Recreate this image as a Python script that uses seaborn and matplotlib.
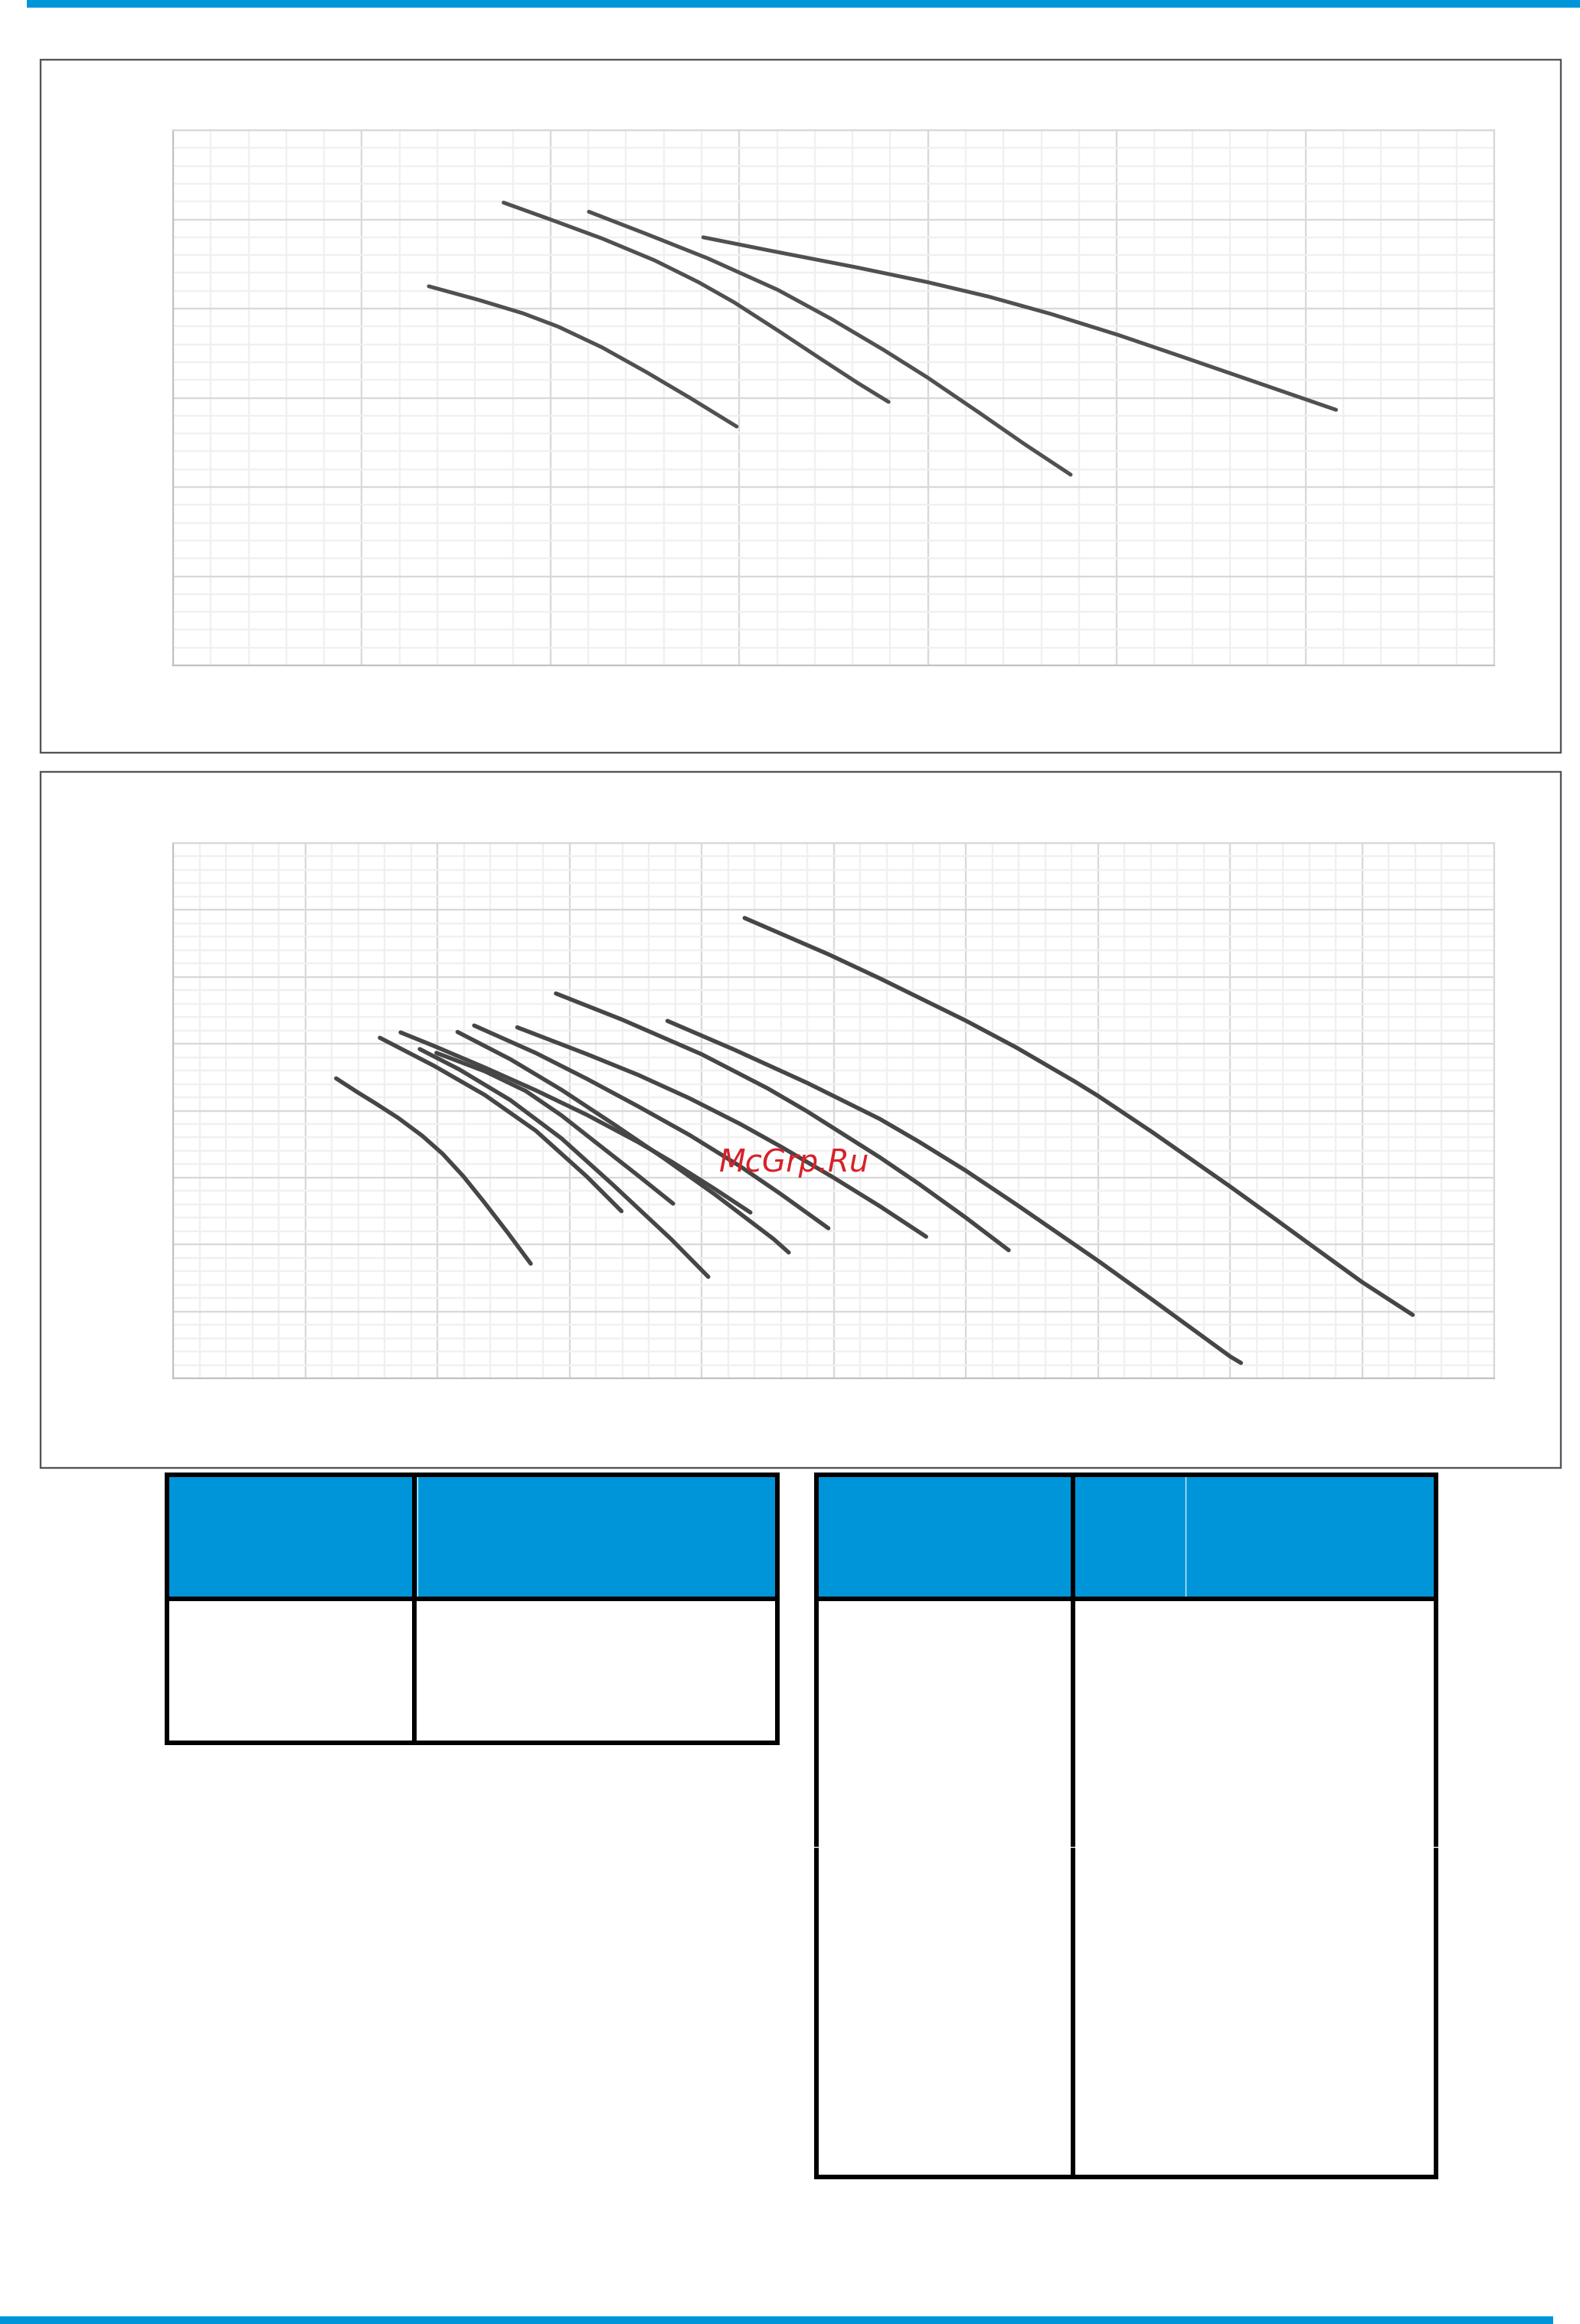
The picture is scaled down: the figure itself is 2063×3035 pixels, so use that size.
import numpy as np
import pandas as pd
import matplotlib
matplotlib.use("Agg")
import matplotlib.pyplot as plt
from matplotlib.patches import Rectangle
import seaborn as sns

# page size in pixels (dpi 100)
W, H = 2063, 3035
BLUE = "#0095d9"

# ---- top chart: 4 curves, x in major-grid units (0..7), y (0..6)
top_a_q = [1.355, 1.621, 1.854, 2.040, 2.273, 2.506, 2.739, 2.986]
top_a_h = [4.250, 4.096, 3.947, 3.798, 3.565, 3.290, 2.999, 2.678]
top_b_q = [1.751, 1.993, 2.273, 2.552, 2.785, 2.972, 3.204, 3.437, 3.624, 3.791]
top_b_h = [5.188, 5.004, 4.786, 4.540, 4.295, 4.071, 3.755, 3.429, 3.171, 2.954]
top_c_q = [2.203, 2.506, 2.832, 3.204, 3.484, 3.763, 3.996, 4.276, 4.509, 4.756]
top_c_h = [5.086, 4.838, 4.564, 4.210, 3.888, 3.539, 3.229, 2.826, 2.484, 2.138]
top_d_q = [2.809, 3.158, 3.624, 3.996, 4.322, 4.648, 5.007, 5.347, 5.720, 6.162]
top_d_h = [4.799, 4.652, 4.461, 4.297, 4.134, 3.942, 3.705, 3.460, 3.188, 2.865]

# ---- bottom chart: 11 curves, x (0..10), y (0..8)
bot_1_q = [1.234, 1.395, 1.524, 1.706, 1.887, 2.042, 2.198, 2.353, 2.534, 2.707]
bot_1_h = [4.483, 4.277, 4.120, 3.889, 3.623, 3.352, 3.017, 2.637, 2.174, 1.714]
bot_2_q = [1.565, 1.973, 2.360, 2.746, 3.133, 3.394]
bot_2_h = [5.090, 4.673, 4.234, 3.700, 3.013, 2.498]
bot_3_q = [1.722, 1.973, 2.360, 2.746, 3.133, 3.520, 3.771, 4.100, 4.370]
bot_3_h = [5.170, 4.969, 4.644, 4.304, 3.937, 3.530, 3.241, 2.830, 2.479]
bot_4_q = [1.867, 2.167, 2.553, 2.940, 3.326, 3.771, 4.051]
bot_4_h = [4.921, 4.616, 4.158, 3.586, 2.899, 2.078, 1.517]
bot_5_q = [1.993, 2.360, 2.669, 2.940, 3.230, 3.520, 3.785]
bot_5_h = [4.864, 4.589, 4.295, 3.929, 3.479, 3.030, 2.611]
bot_6_q = [2.153, 2.553, 2.940, 3.326, 3.713, 4.100, 4.544, 4.660]
bot_6_h = [5.177, 4.769, 4.312, 3.810, 3.292, 2.750, 2.084, 1.881]
bot_7_q = [2.279, 2.746, 3.133, 3.520, 3.906, 4.293, 4.602, 4.960]
bot_7_h = [5.273, 4.862, 4.475, 4.065, 3.640, 3.168, 2.751, 2.243]
bot_8_q = [2.605, 3.133, 3.520, 3.906, 4.293, 4.602, 5.000, 5.350, 5.700]
bot_8_h = [5.246, 4.845, 4.535, 4.188, 3.801, 3.461, 2.999, 2.572, 2.117]
bot_9_q = [3.742, 4.250, 4.800, 5.350, 5.645, 6.000, 6.384, 7.000, 7.418, 8.000, 8.083]
bot_9_h = [5.342, 4.910, 4.415, 3.876, 3.537, 3.104, 2.597, 1.759, 1.166, 0.328, 0.230]
bot_10_q = [2.898, 3.400, 4.000, 4.500, 4.800, 5.350, 5.645, 6.000, 6.325]
bot_10_h = [5.752, 5.360, 4.844, 4.334, 3.989, 3.302, 2.906, 2.402, 1.915]
bot_11_q = [4.326, 4.960, 5.350, 6.000, 6.384, 6.827, 7.000, 7.418, 8.000, 8.304, 8.600, 9.000, 9.383]
bot_11_h = [6.880, 6.338, 5.977, 5.346, 4.943, 4.434, 4.223, 3.671, 2.868, 2.436, 2.010, 1.438, 0.948]


def to_frame(curves):
    rows = []
    for name, (q, h) in curves.items():
        for a, b in zip(q, h):
            rows.append((name, a, b))
    return pd.DataFrame(rows, columns=["curve", "q", "h"])


top_df = to_frame({"a": (top_a_q, top_a_h), "b": (top_b_q, top_b_h),
                   "c": (top_c_q, top_c_h), "d": (top_d_q, top_d_h)})
bot_df = to_frame({"1": (bot_1_q, bot_1_h), "2": (bot_2_q, bot_2_h), "3": (bot_3_q, bot_3_h),
                   "4": (bot_4_q, bot_4_h), "5": (bot_5_q, bot_5_h), "6": (bot_6_q, bot_6_h),
                   "7": (bot_7_q, bot_7_h), "8": (bot_8_q, bot_8_h), "9": (bot_9_q, bot_9_h),
                   "10": (bot_10_q, bot_10_h), "11": (bot_11_q, bot_11_h)})

sns.set_style("white")
plt.rcParams['font.family'] = ['DejaVu Sans']

fig = plt.figure(figsize=(W / 100, H / 100), dpi=100)
fig.patch.set_facecolor("white")

# page layer (pixel coords, y downwards)
page = fig.add_axes([0, 0, 1, 1])
page.set_xlim(0, W)
page.set_ylim(H, 0)
page.axis("off")
page.set_zorder(0)

# blue bars
page.add_patch(Rectangle((35, 0), W - 35, 10, color=BLUE, lw=0))
page.add_patch(Rectangle((0, 3025), 2028, 10, color=BLUE, lw=0))

# chart frames
page.add_patch(Rectangle((53, 78), 1985, 905, fill=False, ec="#555555", lw=1.7))
page.add_patch(Rectangle((53, 1008), 1985, 909, fill=False, ec="#555555", lw=1.7))


def px_axes(x0, y0, x1, y1):
    return fig.add_axes([x0 / W, 1 - y1 / H, (x1 - x0) / W, (y1 - y0) / H])


def style_grid(ax, nx, ny):
    ax.set_xlim(0, nx)
    ax.set_ylim(0, ny)
    ax.set_xticks(np.arange(0, nx + 0.01, 1))
    ax.set_yticks(np.arange(0, ny + 0.01, 1))
    ax.set_xticks(np.arange(0, nx + 0.01, 0.2), minor=True)
    ax.set_yticks(np.arange(0, ny + 0.01, 0.2), minor=True)
    ax.grid(which="minor", color="#f0f0f0", lw=1.7)
    ax.grid(which="major", color="#d9d9d9", lw=1.7)
    ax.set_axisbelow(True)
    ax.tick_params(which="both", length=0, labelbottom=False, labelleft=False)
    ax.set_xlabel("")
    ax.set_ylabel("")
    for side in ["left", "bottom"]:
        ax.spines[side].set_color("#c2c2c2")
        ax.spines[side].set_linewidth(1.6)
    for side in ["top", "right"]:
        ax.spines[side].set_color("#d8d8d8")
        ax.spines[side].set_linewidth(1.6)


def curve_style(ax, lw):
    for ln in ax.lines:
        ln.set_linewidth(lw)
        ln.set_solid_capstyle("round")
        ln.set_solid_joinstyle("round")


ax1 = px_axes(226, 170, 1951, 869)
ax1.set_zorder(1)
sns.lineplot(data=top_df, x="q", y="h", units="curve", estimator=None, sort=False,
             color="#505050", ax=ax1)
curve_style(ax1, 3.6)
style_grid(ax1, 7, 6)

ax2 = px_axes(226, 1101, 1951, 1800)
ax2.set_zorder(1)
sns.lineplot(data=bot_df, x="q", y="h", units="curve", estimator=None, sort=False,
             color="#464646", ax=ax2)
curve_style(ax2, 3.9)
style_grid(ax2, 10, 8)

# watermark
fig.text(1037 / W, 1 - 1519 / H, "McGrp.Ru", color="#d7212a", fontsize=29,
         style="italic", ha="center", va="center", zorder=5)

# tables
TLW = 4.3


def hline(x0, x1, y, c="black", lw=TLW):
    page.plot([x0, x1], [y, y], color=c, lw=lw, solid_capstyle="projecting")


def vline(x, y0, y1, c="black", lw=TLW):
    page.plot([x, x], [y0, y1], color=c, lw=lw, solid_capstyle="projecting")


# table 1
page.add_patch(Rectangle((218, 1926), 797, 162, color=BLUE, lw=0))
vline(545, 1929, 2085, c="white", lw=0.8)
hline(218, 1015, 1926)
hline(218, 1015, 2088)
hline(218, 1015, 2276)
vline(218, 1926, 2276)
vline(541, 1926, 2276)
vline(1015, 1926, 2276)

# table 2
page.add_patch(Rectangle((1066, 1926), 809, 162, color=BLUE, lw=0))
vline(1548, 1929, 2085, c="white", lw=0.8)
hline(1066, 1875, 1926)
hline(1066, 1875, 2088)
hline(1066, 1875, 2843)
vline(1066, 1926, 2843)
vline(1401, 1926, 2843)
vline(1875, 1926, 2843)
hline(1058, 1883, 2412, c="white", lw=1.0)

fig.savefig("out.png", dpi=100, facecolor="white")
